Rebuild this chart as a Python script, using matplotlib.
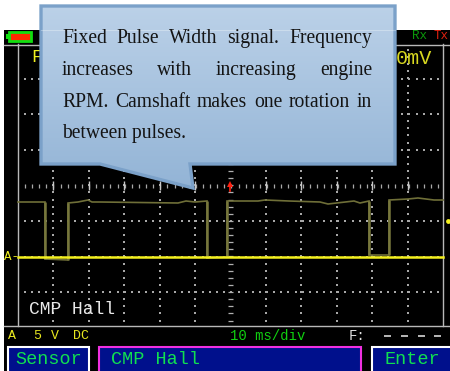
import numpy as np
import matplotlib
matplotlib.use("Agg")
import matplotlib.pyplot as plt
from matplotlib.patches import Polygon, Rectangle

# Signal trace (screen pixels)
trace_x = [18, 45, 45, 68, 68, 78, 88, 92, 100, 178, 186, 195, 207, 207, 227, 227, 258, 265, 289, 320, 328, 354, 360, 369, 369, 389, 389, 408, 418, 434, 443]
trace_y = [202, 202, 259, 260, 203, 202, 200, 202, 202, 203, 201, 202, 201, 258, 257, 201, 201, 200, 201, 202, 204, 201, 203, 201, 255, 255, 200, 199, 198, 200, 200]
edge_x = [45, 68, 207, 227, 369, 389]
edge_top = [202, 203, 201, 201, 201, 200]
edge_bottom = [259, 260, 258, 257, 255, 255]
ground_level = 257
grid_x = [53, 89, 124, 160, 195, 266, 301, 337, 372, 408]
grid_y = [78.5, 114, 150, 221, 257, 292]
callout_lines = [
    ["Fixed", "Pulse", "Width", "signal.", "Frequency"],
    ["increases", "with", "increasing", "engine"],
    ["RPM.", "Camshaft", "makes", "one", "rotation", "in"],
]
callout_last = "between pulses."

fig = plt.figure(figsize=(4.5, 3.71), dpi=100)
ax = fig.add_axes([0, 0, 1, 1])
ax.set_xlim(0, 450)
ax.set_ylim(371, 0)
ax.axis("off")

# Screen
ax.add_patch(Rectangle((4, 30), 446, 341, fc="black", ec="none", zorder=1))
G = "#b8b8b8"
ax.plot([4, 450], [44.5, 44.5], color=G, lw=1, zorder=2)
ax.plot([4, 450], [326, 326], color=G, lw=1, zorder=2)
ax.plot([18, 18], [44, 326], color=G, lw=1, zorder=2)
ax.plot([443, 443], [44, 326], color=G, lw=1, zorder=2)

# Dotted grid
dots_x = np.arange(25, 443, 7.12)
dots_y = np.arange(50, 326, 7.12)
DOT = "#a8a8a8"
for gy in grid_y:
    ax.scatter(dots_x, [gy] * len(dots_x), s=1.0, c=DOT, marker="s", linewidths=0, zorder=2)
for gx in grid_x:
    ax.scatter([gx] * len(dots_y), dots_y, s=1.0, c=DOT, marker="s", linewidths=0, zorder=2)

# Centre rulers
rx = np.arange(25, 443, 7.12)
ax.vlines(rx, 183.5, 187.5, color="#a8a8a8", lw=0.9, zorder=2)
ax.vlines(np.array(grid_x), 181, 189.5, color="#c8c8c8", lw=1, zorder=2)
ry = np.arange(50, 326, 7.12)
ax.hlines(ry, 228, 233, color="#b0b0b0", lw=0.9, zorder=2)

# Traces
ax.plot(trace_x, trace_y, color="#6f6f38", lw=1.2, zorder=3, solid_joinstyle="miter")
ax.vlines(edge_x, edge_top, edge_bottom, color="#77773c", lw=1.8, zorder=3)
ax.plot([18, 443], [ground_level] * 2, color="#f4f01e", lw=1.8, zorder=4)

# Markers
ax.plot([230], [184], marker="^", ms=4.5, color="#ff2010", zorder=5, mew=0)
ax.plot([230, 230], [184, 191], color="#ff2010", lw=1.2, zorder=5)
ax.plot([448], [221], marker="o", ms=3.5, color="#f4f01e", zorder=5, mew=0)

# Battery
ax.add_patch(Rectangle((9, 32), 22, 9, fc="#ff2a00", ec="#10e010", lw=2, zorder=5))
ax.add_patch(Rectangle((6, 34), 3, 5, fc="#10e010", ec="none", zorder=5))

MONO = "Liberation Mono"
def scr(x, y, s, c, size, ha="left"):
    ax.text(x, y, s, color=c, fontsize=size, family=MONO, ha=ha, va="center", zorder=6)

scr(412, 36, "Rx", "#0a9a0a", 9)
scr(434, 36, "Tx", "#e02010", 9)
scr(31, 57, "F", "#f0f020", 13)
scr(396, 58, "0mV", "#d8d820", 14.5)
scr(4, 257, "A-", "#f0f020", 9)
scr(29, 310, "CMP Hall", "#e8e8e8", 13)
scr(8, 336, "A", "#e8e820", 9.5)
scr(33, 336, "5", "#e8e820", 9.5)
scr(51, 336, "V", "#e8e820", 9.5)
scr(73, 336, "DC", "#e8e820", 9.5)
scr(230, 336, "10 ms/div", "#10d010", 10)
scr(349, 336, "F:", "#e0e0e0", 10)
ax.hlines([336] * 4, [384, 401, 418, 434], [391, 408, 425, 441], color="#d8d8d8", lw=1.2, zorder=6)

# Buttons
BLUE = "#00108c"
for x0, x1, ec in [(8, 89, "white"), (99, 361, "#f030e0"), (372, 452, "white")]:
    ax.add_patch(Rectangle((x0, 347), x1 - x0, 30, fc=BLUE, ec=ec, lw=1.5, zorder=5))
scr(15, 360, "Sensor", "#10e050", 13.3)
scr(111, 360, "CMP Hall", "#10e050", 13.3)
scr(384, 360, "Enter", "#10e050", 13.3)

# Callout
poly = [(41, 6), (395, 6), (395, 164), (190, 164), (193, 188), (100, 164), (41, 164)]
grad = np.linspace(0, 1, 256).reshape(-1, 1)
c0, c1 = np.array([0xbb, 0xd1, 0xe8]), np.array([0x93, 0xb4, 0xd6])
rgb = (c0 + (c1 - c0) * grad[..., None]) / 255
shape = Polygon(poly, closed=True, fc="none", ec="#7ba1c9", lw=2.4, zorder=8, joinstyle="miter")
ax.add_patch(shape)
im = ax.imshow(rgb, extent=(41, 395, 188, 6), aspect="auto", zorder=7)
im.set_clip_path(Polygon(poly, closed=True, transform=ax.transData))
ax.set_xlim(0, 450)
ax.set_ylim(371, 0)
ax.plot([41, 395], [30, 30], color="white", alpha=0.3, lw=0.8, zorder=8)

SERIF = "Liberation Serif"
TXT = dict(color="#141414", fontsize=14.1, family=SERIF, va="baseline", zorder=9)
left, right = 62, 372
baselines = [43, 75, 107, 138]
r = fig.canvas.get_renderer()
for words, by in zip(callout_lines, baselines):
    ts = [ax.text(0, by, w, **TXT) for w in words]
    ws = [t.get_window_extent(r).width for t in ts]
    gap = (right - left - sum(ws)) / (len(ws) - 1)
    x = left
    for t, w in zip(ts, ws):
        t.set_x(x)
        x += w + gap
ax.text(left, baselines[3], callout_last, **TXT)

fig.savefig("out.png", dpi=100)
